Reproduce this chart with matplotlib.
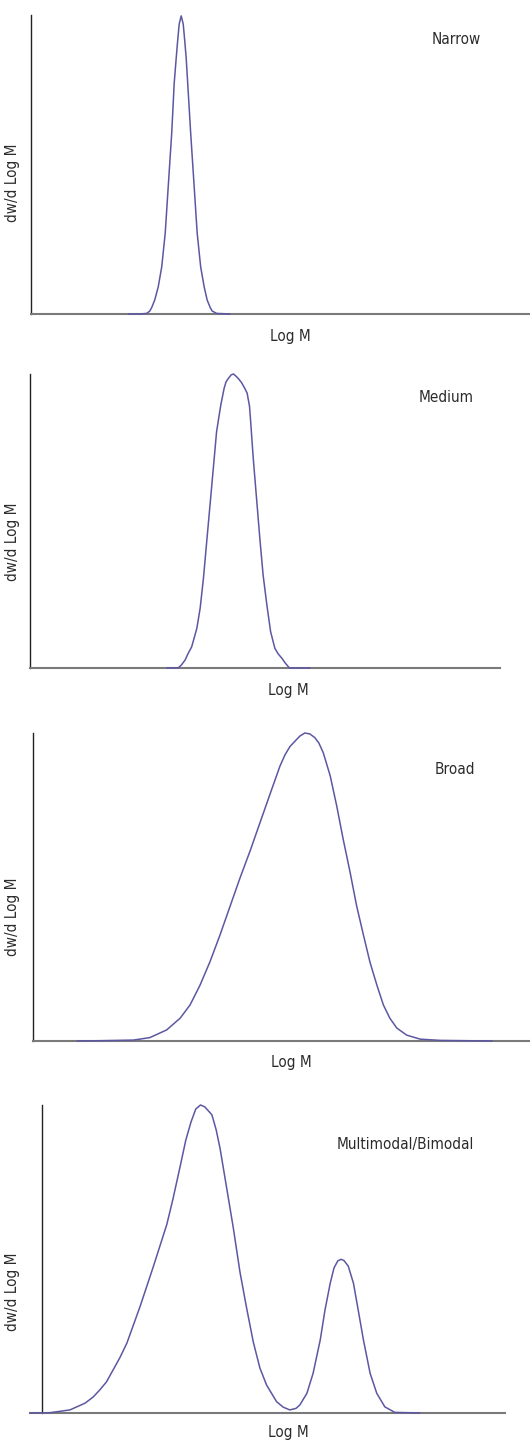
import matplotlib
matplotlib.use("Agg")
import matplotlib.pyplot as plt

# ---------------- data (arbitrary Log M units 0-100, normalised dw/dlogM) ----------------
narrow_logm = [19.5, 21.8, 23.2, 23.8, 24.2, 24.8, 25.5, 26.2, 26.9, 27.5, 28.2, 28.7, 29.1, 29.4, 29.7,
               30.1, 30.5, 30.8, 31.1, 31.4, 32.0, 32.7, 33.3, 34.0, 34.7, 35.3, 35.9, 36.3, 37.2, 39.9]
narrow_w = [0.0, 0.0, 0.002, 0.010, 0.022, 0.047, 0.091, 0.158, 0.271, 0.426, 0.605, 0.773, 0.856, 0.916, 0.970,
            0.997, 0.970, 0.916, 0.856, 0.773, 0.605, 0.426, 0.271, 0.158, 0.091, 0.047, 0.022, 0.010, 0.002, 0.0]

medium_logm = [29.1, 31.6, 32.2, 33.0, 33.6, 34.4, 35.5, 36.2, 36.9, 37.6, 38.3, 39.0, 39.7, 40.6, 41.3,
               41.7, 42.2, 42.8, 43.3, 43.8, 44.3, 45.0, 45.7, 46.2, 46.4, 46.7, 46.9, 47.5, 48.2, 48.9,
               49.6, 50.4, 51.2, 52.1, 52.8, 53.6, 54.3, 55.2, 59.6]
medium_w = [0.0, 0.001, 0.010, 0.027, 0.048, 0.072, 0.135, 0.203, 0.305, 0.430, 0.554, 0.679, 0.804, 0.895,
            0.951, 0.973, 0.985, 0.997, 1.0, 0.993, 0.985, 0.971, 0.951, 0.935, 0.917, 0.891, 0.849, 0.713,
            0.577, 0.441, 0.316, 0.214, 0.123, 0.067, 0.048, 0.033, 0.017, 0.0, 0.0]

broad_logm = [8.9, 13.5, 20.2, 23.5, 26.9, 29.6, 31.6, 33.6, 35.6, 37.6, 39.6, 41.6, 43.7, 45.7, 47.7,
              49.7, 50.7, 51.7, 53.1, 53.7, 54.7, 55.7, 56.7, 57.5, 58.4, 59.8, 61.1, 62.4, 63.8, 65.1,
              66.5, 67.8, 69.2, 70.5, 71.8, 73.2, 75.2, 77.9, 81.9, 92.4]
broad_w = [0.0, 0.001, 0.003, 0.011, 0.036, 0.074, 0.117, 0.181, 0.257, 0.343, 0.435, 0.527, 0.618, 0.710,
           0.802, 0.893, 0.929, 0.956, 0.980, 0.990, 1.0, 0.997, 0.985, 0.968, 0.936, 0.861, 0.764, 0.656,
           0.548, 0.440, 0.343, 0.256, 0.181, 0.117, 0.074, 0.042, 0.019, 0.006, 0.002, 0.0]

multi_logm = [0.0, 4.2, 8.4, 11.6, 13.3, 14.7, 16.1, 17.5, 18.9, 20.4, 23.2, 26.0, 28.8, 30.1, 31.6, 32.8,
              33.9, 34.9, 35.9, 36.8, 38.3, 39.2, 40.0, 41.4, 42.8, 44.2, 45.6, 47.0, 48.4, 49.8, 51.9,
              53.3, 54.7, 56.0, 56.8, 58.3, 59.6, 61.1, 62.1, 63.2, 64.0, 64.8, 65.5, 66.1, 67.0, 68.1,
              69.1, 70.2, 71.6, 73.0, 74.7, 76.8, 82.1]
multi_w = [0.0, 0.001, 0.010, 0.032, 0.052, 0.075, 0.101, 0.140, 0.179, 0.227, 0.347, 0.477, 0.612, 0.695,
           0.800, 0.886, 0.945, 0.987, 1.0, 0.994, 0.968, 0.919, 0.860, 0.731, 0.601, 0.458, 0.341, 0.231,
           0.146, 0.091, 0.037, 0.019, 0.010, 0.015, 0.026, 0.064, 0.129, 0.237, 0.334, 0.421, 0.471,
           0.494, 0.499, 0.495, 0.477, 0.421, 0.334, 0.237, 0.129, 0.064, 0.020, 0.002, 0.0]

titles = ["Narrow", "Medium", "Broad", "Multimodal/Bimodal"]
xlabel = "Log M"
ylabel = "dw/d Log M"

# ---------------- layout ----------------
W, H = 530, 1440
FONT = ["DejaVu Sans"]
TXT = "#2b2b2b"
LINE = "#5c57a2"
FS = 11

fig = plt.figure(figsize=(W / 100, H / 100), dpi=100)

# (left px, right px, top px, bottom px, y-spine px)
boxes = [(31, 530, 15, 314, 31),
         (30, 500, 374, 668, 30),
         (33, 530, 733, 1041, 33),
         (30, 505, 1105, 1413, 42)]
series = [(narrow_logm, narrow_w), (medium_logm, medium_w),
          (broad_logm, broad_w), (multi_logm, multi_w)]
title_pos = [(481, 40), (474, 397), (475, 769), (474, 1144)]
xlab_pos = [(290, 336), (288, 691), (291, 1063), (288, 1433)]
ylab_pos = [(13, 183), (13, 542), (13, 917), (13, 1292)]

txt_kw = dict(fontsize=FS, color=TXT, family=FONT, fontstretch="condensed")

for i, ((l, r, t, b, ys), (xs, ws)) in enumerate(zip(boxes, series)):
    ax = fig.add_axes([l / W, 1 - b / H, (r - l) / W, (b - t) / H])
    ax.plot(xs, ws, color=LINE, lw=1.1, clip_on=False, zorder=3,
            solid_joinstyle="round", solid_capstyle="round")
    ax.set_xlim(0, 100)
    ax.set_ylim(0, 1.0)
    for s in ("top", "right"):
        ax.spines[s].set_visible(False)
    ax.spines["left"].set_color("#222222")
    ax.spines["left"].set_linewidth(1.0)
    ax.spines["left"].set_position(("axes", (ys - l) / (r - l)))
    ax.spines["bottom"].set_color("#7a7a7a")
    ax.spines["bottom"].set_linewidth(1.5)
    ax.set_xticks([])
    ax.set_yticks([])
    ax.patch.set_alpha(0)

    tx, ty = title_pos[i]
    fig.text(tx / W, 1 - ty / H, titles[i], ha="right", va="center", **txt_kw)
    xx, xy = xlab_pos[i]
    fig.text(xx / W, 1 - xy / H, xlabel, ha="center", va="center", **txt_kw)
    yx, yy = ylab_pos[i]
    fig.text(yx / W, 1 - yy / H, ylabel, ha="center", va="center", rotation=90, **txt_kw)

fig.savefig("out.png", dpi=100, facecolor="white")
